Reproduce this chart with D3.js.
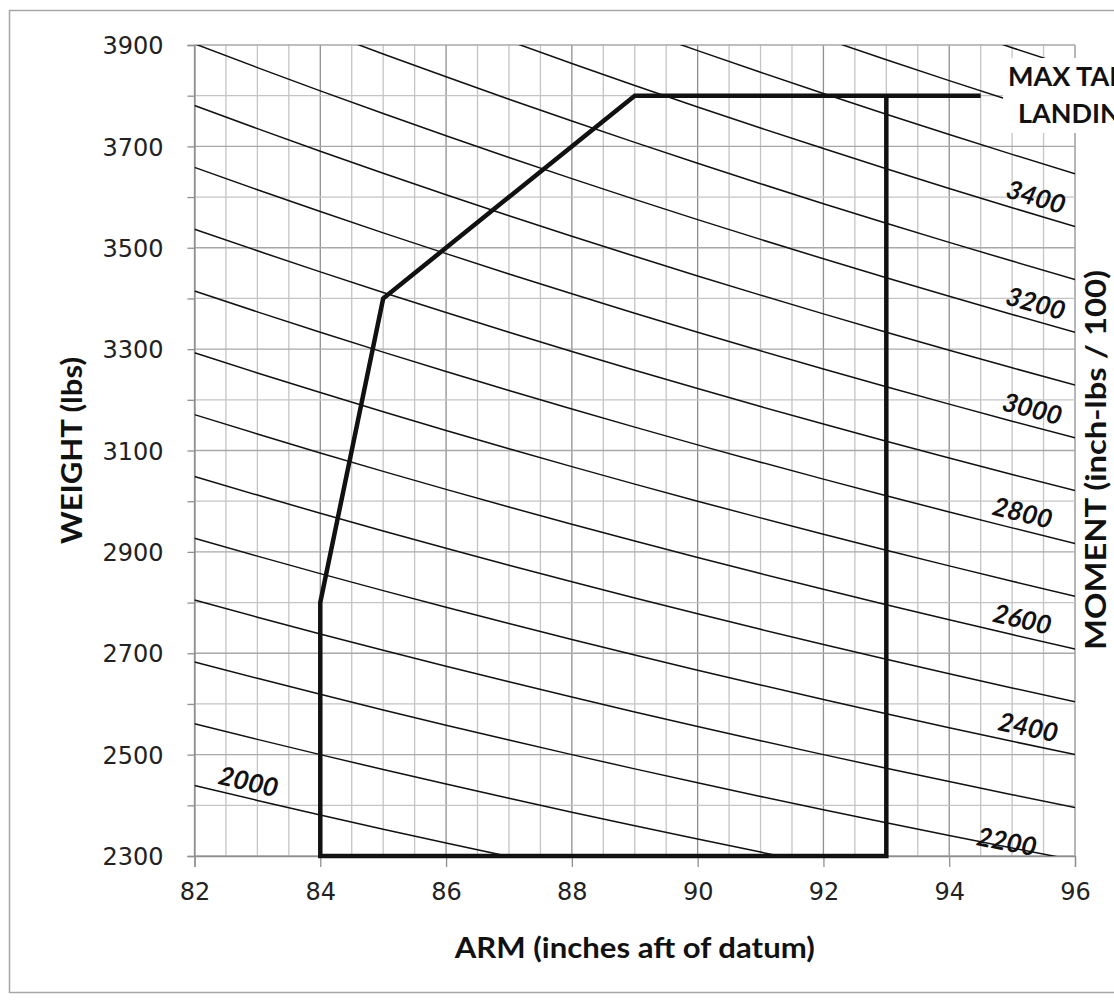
<!DOCTYPE html>
<html>
<head>
<meta charset="utf-8">
<script src="https://cdn.jsdelivr.net/npm/d3@7"></script>
<style>
  body { margin: 0; background: #fff; }
  svg { display: block; }
</style>
</head>
<body>
<script>
  const width = 1114
  const height = 1003

  // data
  const armTicks = [82, 84, 86, 88, 90, 92, 94, 96]
  const weightTicks = [2300, 2500, 2700, 2900, 3100, 3300, 3500, 3700, 3900]
  const moments = [2000, 2100, 2200, 2300, 2400, 2500, 2600, 2700, 2800, 2900,
    3000, 3100, 3200, 3300, 3400, 3500, 3600, 3700]
  const sampleArms = [82, 83, 84, 85, 86, 87, 88, 89, 90, 91, 92, 93, 94, 95, 96]
  const labelMoments = [2000, 2200, 2400, 2600, 2800, 3000, 3200, 3400]
  const labelArms = [82.8, 94.9, 95.2, 95.1, 95.1, 95.25, 95.3, 95.3]
  const envelopeArm = [94.5, 89, 85, 84, 84, 93, 93]
  const envelopeWeight = [3800, 3800, 3400, 2800, 2300, 2300, 3800]

  const plotLeft = 194.5
  const plotRight = 1075
  const plotTop = 45
  const plotBottom = 856

  const x = d3.scaleLinear().domain([82, 96]).range([plotLeft, plotRight])
  const y = d3.scaleLinear().domain([2300, 3900]).range([plotBottom, plotTop])

  const svg = d3.select('body').append('svg')
    .attr('width', width)
    .attr('height', height)

  // outer chart border
  svg.append('rect')
    .attr('x', 9.5).attr('y', 10.5)
    .attr('width', 1130).attr('height', 982)
    .attr('fill', 'none')
    .attr('stroke', '#a6a6a6')
    .attr('stroke-width', 1.5)

  svg.append('clipPath').attr('id', 'plot')
    .append('rect')
    .attr('x', plotLeft).attr('y', plotTop)
    .attr('width', plotRight - plotLeft).attr('height', plotBottom - plotTop)

  // grid
  const grid = svg.append('g')
  grid.selectAll('.vx')
    .data(x.ticks(28))
    .enter().append('line')
    .attr('x1', d => x(d)).attr('x2', d => x(d))
    .attr('y1', plotTop).attr('y2', plotBottom)
    .attr('stroke', d => d % 2 === 0 ? '#8f8f8f' : '#c4c4c4')
    .attr('stroke-width', 1.3)
  grid.selectAll('.hy')
    .data(y.ticks(16))
    .enter().append('line')
    .attr('x1', plotLeft).attr('x2', plotRight)
    .attr('y1', d => y(d)).attr('y2', d => y(d))
    .attr('stroke', d => d % 200 === 100 ? '#a8a8a8' : '#c4c4c4')
    .attr('stroke-width', 1.3)

  // axes
  const yAxis = d3.axisLeft(y)
    .tickValues(y.ticks(16))
    .tickSize(7)
    .tickPadding(24)
    .tickFormat(d => weightTicks.includes(d) ? d : '')
  const xAxis = d3.axisBottom(x)
    .tickValues(armTicks)
    .tickSize(11)
    .tickPadding(16)

  const gy = svg.append('g')
    .attr('transform', `translate(${plotLeft},0)`)
    .call(yAxis)
  const gx = svg.append('g')
    .attr('transform', `translate(0,${plotBottom})`)
    .call(xAxis)
  for (const g of [gx, gy]) {
    g.select('.domain').attr('stroke', '#8f8f8f').attr('stroke-width', 1.3)
    g.selectAll('.tick line').attr('stroke', '#8f8f8f').attr('stroke-width', 1.3)
    g.selectAll('text')
      .attr('font-family', 'DejaVu Sans')
      .attr('font-size', 24)
      .attr('fill', '#222')
  }
  gy.selectAll('text').attr('dy', '0.36em')

  // moment lines
  const momentLine = d3.line()
    .x(d => x(d[0]))
    .y(d => y(d[1]))
  svg.append('g')
    .attr('clip-path', 'url(#plot)')
    .selectAll('path')
    .data(moments)
    .enter().append('path')
    .attr('d', m => momentLine(sampleArms.map(a => [a, m * 100 / a])))
    .attr('fill', 'none')
    .attr('stroke', '#111')
    .attr('stroke-width', 1.5)

  // moment labels
  const labelLift = [16, 5, 17, 17, 17, 17, 17, 17]
  svg.append('g')
    .selectAll('text')
    .data(labelMoments)
    .enter().append('text')
    .attr('transform', (m, i) => {
      const a = labelArms[i]
      const px = x(a)
      const py = y(m * 100 / a)
      const slope = y(m * 100 / (a + 0.5)) - py
      const ang = Math.atan2(slope, x(a + 0.5) - px) * 180 / Math.PI
      return `translate(${px},${py}) rotate(${ang})`
    })
    .attr('y', (m, i) => -(labelLift[i] - 9))
    .attr('text-anchor', 'middle')
    .attr('font-family', 'Lato')
    .attr('font-weight', 'bold')
    .attr('font-style', 'italic')
    .attr('font-size', 26)
    .attr('fill', '#111')
    .text(d => d)

  // max takeoff / landing note (cut off by the right edge, as in the source)
  svg.append('rect')
    .attr('x', 1003).attr('y', 58)
    .attr('width', 120).attr('height', 75)
    .attr('fill', '#fff')
  const note = svg.append('text')
    .attr('font-family', 'Lato')
    .attr('font-weight', 'bold')
    .attr('font-size', 27)
    .attr('fill', '#111')
  note.append('tspan').attr('x', 1008).attr('y', 86).text('MAX TAKEOFF')
  note.append('tspan').attr('x', 1018).attr('y', 123).text('LANDING')

  // envelope
  svg.append('path')
    .attr('d', d3.line()
      .x(d => x(d[0]))
      .y(d => y(d[1]))(envelopeArm.map((a, i) => [a, envelopeWeight[i]])))
    .attr('fill', 'none')
    .attr('stroke', '#111')
    .attr('stroke-width', 4.5)
    .attr('stroke-linejoin', 'miter')

  // axis titles
  svg.append('text')
    .attr('x', (plotLeft + plotRight) / 2).attr('y', 958)
    .attr('text-anchor', 'middle')
    .attr('font-family', 'Lato').attr('font-weight', 'bold')
    .attr('font-size', 28)
    .attr('textLength', 360).attr('lengthAdjust', 'spacingAndGlyphs')
    .attr('fill', '#111')
    .text('ARM (inches aft of datum)')
  svg.append('text')
    .attr('transform', `translate(82,${(plotTop + plotBottom) / 2}) rotate(-90)`)
    .attr('text-anchor', 'middle')
    .attr('font-family', 'Lato').attr('font-weight', 'bold')
    .attr('font-size', 28)
    .attr('textLength', 187).attr('lengthAdjust', 'spacingAndGlyphs')
    .attr('fill', '#111')
    .text('WEIGHT (lbs)')
  svg.append('text')
    .attr('transform', `translate(1106,460) rotate(-90)`)
    .attr('text-anchor', 'middle')
    .attr('font-family', 'Lato').attr('font-weight', 'bold')
    .attr('font-size', 28)
    .attr('textLength', 380).attr('lengthAdjust', 'spacingAndGlyphs')
    .attr('fill', '#111')
    .text('MOMENT (inch-lbs / 100)')
</script>
</body>
</html>
